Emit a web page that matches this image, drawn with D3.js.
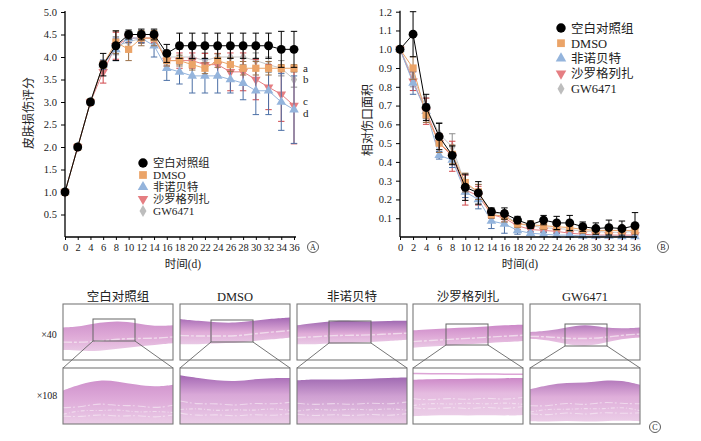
<!DOCTYPE html>
<html><head><meta charset="utf-8">
<script src="https://cdn.jsdelivr.net/npm/d3@7/dist/d3.min.js"></script>
<style>
body{margin:0;background:#fff;}
svg{display:block;}
text{font-family:"Liberation Serif","Noto Sans CJK SC",serif;fill:#222;}
</style></head><body>
<svg id="c" width="701" height="441"></svg>
<script>
// ---------- DATA ----------
const days = [0,2,4,6,8,10,12,14,16,18,20,22,24,26,28,30,32,34,36];
const groups = ["空白对照组","DMSO","非诺贝特","沙罗格列扎","GW6471"];
// Panel A: skin damage score
const scoreCtrl = [1,2,3,3.83,4.25,4.5,4.5,4.5,4.08,4.25,4.25,4.25,4.25,4.25,4.25,4.25,4.25,4.17,4.17];
const scoreCtrlErr = [0,0,0,0.25,0.33,0.1,0.12,0.12,0.2,0.28,0.28,0.28,0.28,0.28,0.28,0.28,0.28,0.4,0.4];
const scoreDmso = [1,2,3,3.83,4.33,4.17,4.42,4.42,3.92,3.92,3.83,3.75,3.92,3.83,3.75,3.75,3.75,3.75,3.75];
const scoreDmsoErr = [0,0,0,0.08,0.25,0.25,0.17,0.17,0.12,0.12,0.12,0.12,0.15,0.15,0.15,0.15,0.15,0.08,0.08];
const scoreFeno = [1,2,3,3.83,4.17,4.42,4.42,4.25,3.75,3.67,3.58,3.58,3.58,3.5,3.42,3.25,3.25,3.0,2.83];
const scoreFenoErr = [0,0,0,0.1,0.25,0.1,0.1,0.25,0.27,0.27,0.38,0.38,0.38,0.3,0.37,0.53,0.53,0.63,0.75];
const scoreSaro = [1,2,3,3.67,4.25,4.42,4.42,4.42,3.92,3.92,3.92,3.83,3.83,3.67,3.67,3.5,3.33,3.17,2.92];
const scoreSaroErr = [0,0,0,0.25,0.3,0.1,0.1,0.1,0.12,0.17,0.17,0.25,0.25,0.42,0.42,0.45,0.5,0.6,0.85];
const scoreGw = [1,2,3,3.83,4.25,4.33,4.42,4.42,4.0,4.0,4.0,3.92,4.0,4.0,4.0,3.92,3.83,3.75,3.5];
const scoreGwErr = [0,0,0,0.1,0.2,0.1,0.12,0.12,0.15,0.17,0.17,0.17,0.17,0.17,0.17,0.17,0.17,0.17,0.17];
// Panel B: relative wound area
const areaCtrl = [1.0,1.08,0.69,0.535,0.435,0.265,0.235,0.135,0.125,0.09,0.065,0.09,0.075,0.075,0.055,0.045,0.05,0.045,0.06];
const areaCtrlErr = [0,0.12,0.07,0.07,0.05,0.07,0.06,0.02,0.03,0.02,0.02,0.025,0.035,0.04,0.025,0.03,0.04,0.04,0.07];
const areaDmso = [1.0,0.9,0.65,0.5,0.44,0.29,0.24,0.12,0.11,0.07,0.065,0.06,0.055,0.05,0.04,0.035,0.035,0.035,0.035];
const areaDmsoErr = [0,0.06,0.04,0.05,0.05,0.05,0.04,0.02,0.03,0.02,0.02,0.02,0.02,0.02,0.02,0.02,0.02,0.02,0.02];
const areaFeno = [1.0,0.82,0.67,0.435,0.41,0.24,0.2,0.085,0.07,0.035,0.02,0.015,0.01,0.01,0.005,0.005,0.005,0.003,0.003];
const areaFenoErr = [0,0.06,0.04,0.02,0.04,0.03,0.05,0.04,0.05,0.02,0.01,0.01,0.01,0.005,0.005,0.005,0.005,0.003,0.003];
const areaSaro = [1.0,0.83,0.67,0.5,0.43,0.25,0.22,0.12,0.1,0.06,0.04,0.035,0.03,0.02,0.015,0.01,0.01,0.01,0.01];
const areaSaroErr = [0,0.05,0.07,0.05,0.08,0.08,0.05,0.02,0.02,0.02,0.015,0.01,0.01,0.01,0.01,0.005,0.005,0.005,0.005];
const areaGw = [1.0,0.85,0.69,0.55,0.48,0.28,0.24,0.13,0.12,0.07,0.06,0.05,0.045,0.04,0.03,0.03,0.025,0.025,0.03];
const areaGwErr = [0,0.05,0.05,0.06,0.07,0.05,0.04,0.02,0.02,0.02,0.02,0.02,0.02,0.02,0.02,0.02,0.02,0.02,0.02];
const xTicks = [0,2,4,6,8,10,12,14,16,18,20,22,24,26,28,30,32,34,36];
const yTicksA = [0.5,1.0,1.5,2.0,2.5,3.0,3.5,4.0,4.5,5.0];
const yTicksB = [0.1,0.2,0.3,0.4,0.5,0.6,0.7,0.8,0.9,1.0,1.1,1.2];
const sigLetters = ["a","b","c","d"];
const sigValues = [3.75,3.5,2.92,2.83];
const magLabels = ["×40","×108"];

// ---------- STYLE ----------
const styles = [
  {sym:d3.symbolCircle, size:62, fill:"#000", line:"#000", err:"#000", rot:0},
  {sym:d3.symbolSquare, size:52, fill:"#EBA468", line:"#EBA468", err:"#9A7048", rot:0},
  {sym:d3.symbolTriangle, size:40, fill:"#94B4DC", line:"#94B4DC", err:"#4C70A6", rot:0},
  {sym:d3.symbolTriangle, size:40, fill:"#E57E82", line:"#E57E82", err:"#D0474B", rot:180},
  {sym:d3.symbolDiamond, size:34, fill:"#BDBDBD", line:"#C6C6C6", err:"#8E8E8E", rot:0}
];
const svg = d3.select("#c");

function drawChart(cfg){
  const g = svg.append("g");
  const x = d3.scaleLinear().domain([0,36]).range(cfg.xr);
  const y = d3.scaleLinear().domain(cfg.yd).range(cfg.yr);
  const order = [4,3,2,1,0];
  order.forEach(i=>{
    const st = styles[i], vals = cfg.series[i], errs = cfg.errs[i];
    const pts = days.map((d,k)=>({d, v:vals[k], e:errs[k]}));
    const gg = g.append("g");
    gg.append("path").datum(pts)
      .attr("d", d3.line().x(p=>x(p.d)).y(p=>y(p.v)))
      .attr("fill","none").attr("stroke",st.line).attr("stroke-width",1);
    const eb = gg.selectAll(".eb").data(pts.filter(p=>p.e>0)).enter().append("g");
    eb.append("line").attr("x1",p=>x(p.d)).attr("x2",p=>x(p.d))
      .attr("y1",p=>y(Math.max(cfg.yd[0],p.v-p.e))).attr("y2",p=>y(p.v+p.e))
      .attr("stroke",st.err).attr("stroke-width",1);
    [1,-1].forEach(s=>{
      eb.filter(p=> s>0 || p.v-p.e>cfg.yd[0]).append("line")
        .attr("x1",p=>x(p.d)-3.2).attr("x2",p=>x(p.d)+3.2)
        .attr("y1",p=>y(p.v+s*p.e)).attr("y2",p=>y(p.v+s*p.e))
        .attr("stroke",st.err).attr("stroke-width",1);
    });
    gg.selectAll(".m").data(pts).enter().append("path")
      .attr("d", d3.symbol().type(st.sym).size(st.size))
      .attr("transform",p=>`translate(${x(p.d)},${y(p.v)}) rotate(${st.rot})`)
      .attr("fill",st.fill);
  });
  // axes
  const xa = g.append("g").attr("transform",`translate(0,${cfg.yr[0]})`)
    .call(d3.axisBottom(x).tickValues(xTicks).tickSize(3).tickSizeOuter(0).tickFormat(d3.format("d")));
  const ya = g.append("g").attr("transform",`translate(${cfg.xr[0]},0)`)
    .call(d3.axisLeft(y).tickValues(cfg.yt).tickSize(4).tickSizeOuter(0).tickFormat(d3.format(".1f")));
  [xa,ya].forEach(a=>{
    a.selectAll("path").attr("stroke","#000").attr("stroke-width",1.3);
    a.selectAll("line").attr("stroke","#000");
    a.selectAll("text").attr("font-size",10.5).attr("fill","#222")
      .style("font-family",'"Liberation Serif",serif');
  });
  xa.select(".domain").attr("d",`M${cfg.xr[0]},0H${cfg.xr[1]+2}`);
  ya.select(".domain").attr("d",`M0,${cfg.yr[0]}V${cfg.yr[1]-1}`);
  xa.selectAll("text").attr("dy","0.8em");
  ya.selectAll("text").attr("dx","-0.1em");
  // titles
  g.append("text").attr("x",cfg.xt[0]).attr("y",cfg.xt[1]).attr("text-anchor","middle")
    .attr("font-size",11.5).text("时间(d)");
  g.append("text").attr("transform",`translate(${cfg.yl[0]},${cfg.yl[1]}) rotate(-90)`)
    .attr("text-anchor","middle").attr("font-size",12).text(cfg.ylabel);
  // legend
  const lg = g.append("g");
  groups.forEach((name,i)=>{
    const st = styles[i], yy = cfg.leg[1]+i*cfg.leg[2];
    lg.append("path").attr("d",d3.symbol().type(st.sym).size(st.size+8))
      .attr("transform",`translate(${cfg.leg[0]},${yy}) rotate(${st.rot})`).attr("fill",st.fill);
    lg.append("text").attr("x",cfg.leg[0]+10).attr("y",yy).attr("dy","0.36em")
      .attr("font-size",cfg.leg[3]).text(name);
  });
  // circled panel label
  g.append("circle").attr("cx",cfg.tag[0]).attr("cy",cfg.tag[1]).attr("r",5.5)
    .attr("fill","none").attr("stroke","#333").attr("stroke-width",0.8);
  g.append("text").attr("x",cfg.tag[0]).attr("y",cfg.tag[1]).attr("dy","0.35em")
    .attr("text-anchor","middle").attr("font-size",8).text(cfg.tag[2]);
  return {x,y};
}

const A = drawChart({xr:[65,294], yr:[237,12], yd:[0,5], yt:yTicksA,
  series:[scoreCtrl,scoreDmso,scoreFeno,scoreSaro,scoreGw],
  errs:[scoreCtrlErr,scoreDmsoErr,scoreFenoErr,scoreSaroErr,scoreGwErr],
  xt:[183,268], yl:[33,113], ylabel:"皮肤损伤评分", leg:[143,163,12,11.3], tag:[313,247,"A"]});
const sigShift = [0,0,-4,4];
sigLetters.forEach((l,i)=>{
  svg.append("text").attr("x",303).attr("y",A.y(sigValues[i])+sigShift[i]).attr("dy","0.3em")
    .attr("font-size",11).text(l);
});
drawChart({xr:[400,635], yr:[237,11.7], yd:[0,1.2], yt:yTicksB,
  series:[areaCtrl,areaDmso,areaFeno,areaSaro,areaGw],
  errs:[areaCtrlErr,areaDmsoErr,areaFenoErr,areaSaroErr,areaGwErr],
  xt:[520,268], yl:[372,120], ylabel:"相对伤口面积", leg:[561,28,15.2,12.5], tag:[663,247,"B"]});

// ---------- PANEL C (histology sketches) ----------
const panelX = [63,180,297,413,530];
const pw = 110, topRow=[304,360], botRow=[368,424];
const bandTop = [[0.42,0.40,0.33,0.30,0.34,0.40,0.38],[0.27,0.30,0.33,0.34,0.30,0.26,0.24],
  [0.38,0.34,0.30,0.30,0.32,0.30,0.30],[0.47,0.45,0.43,0.42,0.40,0.38,0.37],[0.50,0.48,0.42,0.36,0.42,0.44,0.42]];
const bandBot = [[0.82,0.84,0.84,0.80,0.76,0.73,0.70],[0.72,0.72,0.70,0.70,0.66,0.63,0.60],
  [0.72,0.72,0.70,0.70,0.68,0.66,0.64],[0.78,0.76,0.74,0.72,0.70,0.68,0.66],[0.62,0.64,0.72,0.76,0.70,0.62,0.60]];
const zoomTop = [[0.40,0.28,0.21,0.24,0.30,0.34,0.30],[0.13,0.18,0.22,0.24,0.20,0.18,0.18],
  [0.22,0.20,0.21,0.20,0.19,0.18,0.17],[0.21,0.20,0.20,0.19,0.19,0.18,0.18],[0.38,0.30,0.26,0.27,0.22,0.22,0.30]];
const zoomBot = [[1,1,1,1,1,1,1],[1,1,1,1,1,1,1],[1,1,1,1,1,1,1],[0.86,0.85,0.84,0.85,0.84,0.85,0.84],[0.95,0.96,0.94,0.96,0.95,0.94,0.95]];
const zoomDark = ["#CF92CC","#A468B4","#A06AB2","#CC88C8","#B47ABC"];
const zoomLight = ["#DDA8D8","#D9A8D8","#CFA0D2","#E5BBE0","#DFAEDA"];
const insetX = [30,31,32,33,35], insetY = [[319,341],[320,342],[321,343],[324,345],[324,346]];

const defs = svg.append("defs");
groups.forEach((n,i)=>{
  const gr = defs.append("linearGradient").attr("id","zg"+i).attr("x1",0).attr("x2",0).attr("y1",0).attr("y2",1);
  gr.append("stop").attr("offset","0%").attr("stop-color",zoomDark[i]);
  gr.append("stop").attr("offset","40%").attr("stop-color",zoomLight[i]);
  gr.append("stop").attr("offset","100%").attr("stop-color","#EBCDE7");
  const gb = defs.append("linearGradient").attr("id","bg"+i).attr("x1",0).attr("x2",0).attr("y1",0).attr("y2",1);
  gb.append("stop").attr("offset","0%").attr("stop-color",zoomDark[i]);
  gb.append("stop").attr("offset","55%").attr("stop-color","#E0ACD8");
  gb.append("stop").attr("offset","100%").attr("stop-color","#E9C9E5");
});
const idx = [0,1,2,3,4,5,6];
panelX.forEach((px,i)=>{
  const g = svg.append("g");
  const sx = d3.scaleLinear().domain([0,6]).range([px,px+pw]);
  const syT = d3.scaleLinear().domain([0,1]).range(topRow);
  const syB = d3.scaleLinear().domain([0,1]).range(botRow);
  g.append("text").attr("x",px+pw/2).attr("y",297).attr("dy","0.35em").attr("text-anchor","middle")
    .attr("font-size",12.5).text(groups[i]);
  // top row band
  g.append("path").datum(idx).attr("d",d3.area().curve(d3.curveBasis)
      .x(k=>sx(k)).y0(k=>syT(bandBot[i][k])).y1(k=>syT(bandTop[i][k])))
    .attr("fill","url(#bg"+i+")");
  g.append("path").datum(idx).attr("d",d3.line().curve(d3.curveBasis)
      .x(k=>sx(k)).y(k=>syT(bandTop[i][k]*0.35+bandBot[i][k]*0.65)))
    .attr("fill","none").attr("stroke","#F6ECF4").attr("stroke-width",1.4).attr("opacity",0.7)
    .attr("stroke-dasharray","9,2,3,2");
  // zoomed row tissue
  g.append("path").datum(idx).attr("d",d3.area().curve(d3.curveBasis)
      .x(k=>sx(k)).y0(k=>syB(zoomBot[i][k])).y1(k=>syB(zoomTop[i][k])))
    .attr("fill","url(#zg"+i+")");
  [0.55,0.68,0.8].forEach((f,j)=>{
    g.append("path").datum(idx).attr("d",d3.line().curve(d3.curveBasis)
        .x(k=>sx(k)).y(k=>syB(zoomTop[i][k]*(1-f)+zoomBot[i][k]*f + ((k+j)%2?0.02:-0.02))))
      .attr("fill","none").attr("stroke","#F8EEF6").attr("stroke-width",1.1).attr("opacity",0.6)
      .attr("stroke-dasharray",j%2?"4,2,1,2":"8,2,2,3");
  });
  if(i===3){
    g.append("path").datum(idx).attr("d",d3.line().curve(d3.curveBasis)
        .x(k=>sx(k)).y(k=>syB(0.1+k*0.002)))
      .attr("fill","none").attr("stroke","#DDA4D6").attr("stroke-width",1.5);
  }
  // frames
  g.append("rect").attr("x",px).attr("y",topRow[0]).attr("width",pw).attr("height",topRow[1]-topRow[0])
    .attr("fill","none").attr("stroke","#7A7A7A").attr("stroke-width",1.1);
  g.append("rect").attr("x",px).attr("y",botRow[0]).attr("width",pw).attr("height",botRow[1]-botRow[0])
    .attr("fill","none").attr("stroke","#7A7A7A").attr("stroke-width",1.1);
  const ix = px+insetX[i], iw = 42;
  g.append("rect").attr("x",ix).attr("y",insetY[i][0]).attr("width",iw).attr("height",insetY[i][1]-insetY[i][0])
    .attr("fill","none").attr("stroke","#666").attr("stroke-width",1);
  g.append("line").attr("x1",ix).attr("y1",insetY[i][1]).attr("x2",px).attr("y2",botRow[0])
    .attr("stroke","#666").attr("stroke-width",0.9);
  g.append("line").attr("x1",ix+iw).attr("y1",insetY[i][1]).attr("x2",px+pw).attr("y2",botRow[0])
    .attr("stroke","#666").attr("stroke-width",0.9);
});
svg.append("text").attr("x",49).attr("y",334).attr("dy","0.35em").attr("text-anchor","middle")
  .attr("font-size",10).attr("fill","#444").text(magLabels[0]);
svg.append("text").attr("x",47).attr("y",395).attr("dy","0.35em").attr("text-anchor","middle")
  .attr("font-size",10).attr("fill","#444").text(magLabels[1]);
svg.append("circle").attr("cx",655).attr("cy",427).attr("r",5.5).attr("fill","none").attr("stroke","#333").attr("stroke-width",0.8);
svg.append("text").attr("x",655).attr("y",427).attr("dy","0.35em").attr("text-anchor","middle").attr("font-size",8).text("C");
</script></body></html>
